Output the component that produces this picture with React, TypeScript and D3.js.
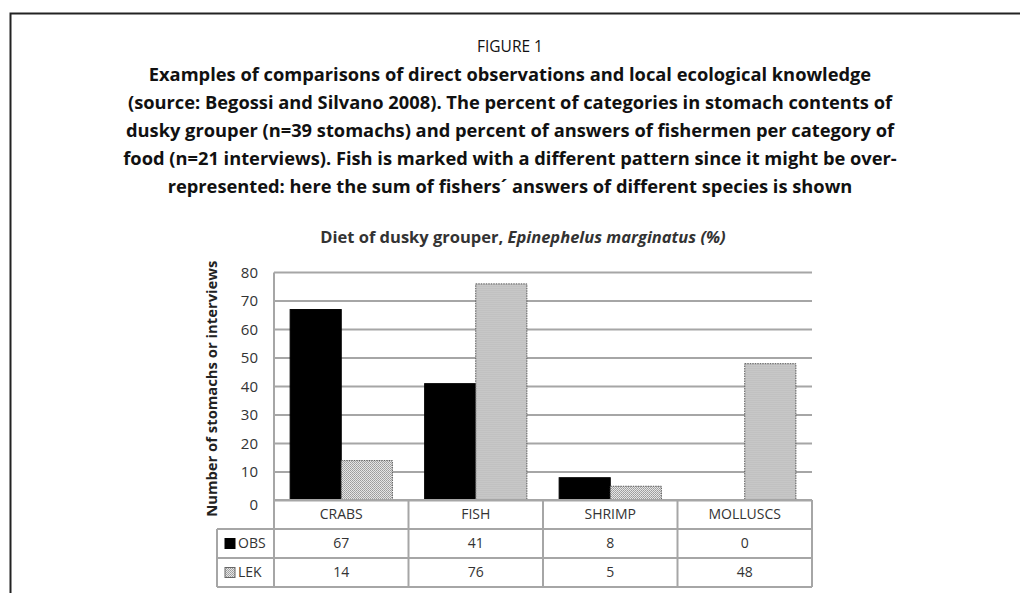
import React from 'react'
import * as d3 from 'd3'

const categories = ['CRABS', 'FISH', 'SHRIMP', 'MOLLUSCS']
const seriesNames = ['OBS', 'LEK']
const obsValues = [67, 41, 8, 0]
const lekValues = [14, 76, 5, 48]
const yTicks = [0, 10, 20, 30, 40, 50, 60, 70, 80]

const captionLines = [
  'Examples of comparisons of direct observations and local ecological knowledge',
  '(source: Begossi and Silvano 2008). The percent of categories in stomach contents of',
  'dusky grouper (n=39 stomachs) and percent of answers of fishermen per category of',
  'food (n=21 interviews). Fish is marked with a different pattern since it might be over-',
  'represented: here the sum of fishers\u00b4 answers of different species is shown',
]

export default function App() {
  const width = 1020
  const height = 593
  const plot = { left: 274, right: 812, top: 272.5, bottom: 500.5 }
  const tableLeft = 217
  const chartFont = "'Open Sans', 'Noto Sans', sans-serif"

  const values: Record<string, number[]> = { OBS: obsValues, LEK: lekValues }

  const x = d3.scaleBand<string>().domain(categories).range([plot.left, plot.right])
  const bw = x.bandwidth()
  const x1 = d3.scaleBand<string>().domain(seriesNames).range([bw * 0.12, bw * 0.88])
  const y = d3.scaleLinear().domain([0, 80]).range([plot.bottom, plot.top])

  const rows = d3.scaleBand<string>().domain(['head', ...seriesNames]).range([500, 587])
  const rh = rows.bandwidth()

  const grid = '#a6a6a6'

  return (
    <svg width={width} height={height} style={{ position: 'absolute', left: 0, top: 0, background: '#fff' }}>
      <defs>
        <pattern id="hatch" width="2" height="2" patternUnits="userSpaceOnUse">
          <rect width="2" height="2" fill="#e6e6e6" />
          <rect width="1" height="1" fill="#9c9c9c" />
          <rect x="1" y="1" width="1" height="1" fill="#a8a8a8" />
        </pattern>
      </defs>

      {/* frame */}
      <path d={`M10.5,${height} V13.5 H${width}`} fill="none" stroke="#222" strokeWidth={2} />

      {/* caption */}
      <text x={510} y={52} textAnchor="middle" fontFamily="'Open Sans', sans-serif" fontSize={15.5} fill="#111">
        FIGURE 1
      </text>
      {captionLines.map((line, i) => (
        <text key={i} x={510} y={81 + i * 28} textAnchor="middle" fontFamily="'Open Sans', sans-serif"
          fontWeight="bold" fontSize={18.3} fill="#111">
          {line}
        </text>
      ))}

      {/* chart title */}
      <text x={523} y={243} textAnchor="middle" fontFamily={chartFont} fontWeight="bold" fontSize={16.5} fill="#333">
        Diet of dusky grouper, <tspan fontStyle="italic">Epinephelus marginatus (%)</tspan>
      </text>

      {/* gridlines */}
      {yTicks.map(t => (
        <line key={t} x1={plot.left} x2={plot.right} y1={y(t)} y2={y(t)} stroke={grid} strokeWidth={2} />
      ))}
      <line x1={plot.left} x2={plot.left} y1={plot.top} y2={rows('LEK')! + rh} stroke={grid} strokeWidth={2} />

      {/* y tick labels */}
      {yTicks.map(t => (
        <text key={t} x={258} y={y(t) + (t === 0 ? 4 : 0)} dy="0.35em" textAnchor="end" fontFamily={chartFont}
          fontSize={15} fill="#333">
          {t}
        </text>
      ))}

      {/* y axis title */}
      <text transform={`translate(217,${(plot.top + 515) / 2 - 5}) rotate(-90)`} textAnchor="middle"
        fontFamily={chartFont} fontWeight="bold" fontSize={14.8} fill="#222">
        Number of stomachs or interviews
      </text>

      {/* bars */}
      {categories.map((c, ci) => (
        <g key={c} transform={`translate(${x(c)},0)`}>
          {seriesNames.map(s => {
            const v = values[s][ci]
            if (v === 0) return null
            return (
              <rect key={s} x={x1(s)} y={y(v)} width={x1.bandwidth()} height={y(0) - y(v)}
                fill={s === 'OBS' ? '#000' : 'url(#hatch)'}
                stroke={s === 'OBS' ? '#000' : '#555'} strokeWidth={1}
                strokeDasharray={s === 'OBS' ? undefined : '1.5,1'} />
            )
          })}
        </g>
      ))}

      {/* data table */}
      <g fontFamily={chartFont} fontSize={14} fill="#333">
        {/* horizontal lines */}
        <line x1={plot.left} x2={plot.right} y1={rows('head')!} y2={rows('head')!} stroke={grid} strokeWidth={2} />
        {seriesNames.map(s => (
          <line key={s} x1={tableLeft} x2={plot.right} y1={rows(s)!} y2={rows(s)!} stroke={grid} strokeWidth={2} />
        ))}
        <line x1={tableLeft} x2={plot.right} y1={rows('LEK')! + rh} y2={rows('LEK')! + rh} stroke={grid} strokeWidth={2} />
        {/* vertical lines */}
        <line x1={tableLeft} x2={tableLeft} y1={rows('OBS')!} y2={rows('LEK')! + rh} stroke={grid} strokeWidth={2} />
        {categories.map(c => (
          <line key={c} x1={x(c)! + bw} x2={x(c)! + bw} y1={rows('head')!} y2={rows('LEK')! + rh} stroke={grid} strokeWidth={2} />
        ))}
        {/* header */}
        {categories.map(c => (
          <text key={c} x={x(c)! + bw / 2} y={rows('head')! + rh / 2} dy="0.35em" textAnchor="middle">{c}</text>
        ))}
        {/* rows */}
        {seriesNames.map(s => (
          <g key={s}>
            <rect x={225} y={rows(s)! + rh / 2 - 5} width={10} height={10}
              fill={s === 'OBS' ? '#000' : 'url(#hatch)'} stroke={s === 'OBS' ? '#000' : '#666'} strokeWidth={1} />
            <text x={238} y={rows(s)! + rh / 2} dy="0.35em">{s}</text>
            {categories.map((c, ci) => (
              <text key={c} x={x(c)! + bw / 2} y={rows(s)! + rh / 2} dy="0.35em" textAnchor="middle">
                {values[s][ci]}
              </text>
            ))}
          </g>
        ))}
      </g>
    </svg>
  )
}
